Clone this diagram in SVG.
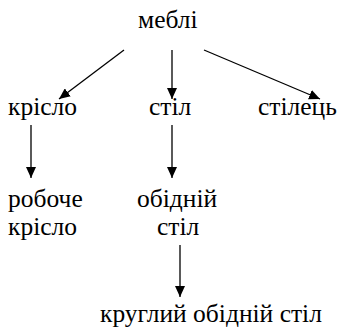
<svg xmlns="http://www.w3.org/2000/svg" width="338" height="327" viewBox="0 0 338 327">
<style>
text, .t{font-family:"Liberation Serif","Times New Roman","DejaVu Serif",serif !important;font-size:25.5px;fill:#000}
.ln{stroke:#000;stroke-width:1.3;fill:none}
</style>
<defs>
<marker id="ah" markerWidth="11" markerHeight="10" refX="11" refY="5" orient="auto" markerUnits="userSpaceOnUse">
<path d="M0,0 L11,5 L0,10 Z" fill="#000"/>
</marker>
</defs>
<rect width="338" height="327" fill="#fff"/>
<g id="n-mebli"><text class="t" font-family="Liberation Serif, serif" x="138" y="28">меблі</text></g>
<g id="n-krislo"><text class="t" font-family="Liberation Serif, serif" x="8" y="115">крісло</text></g>
<g id="n-stil"><text class="t" font-family="Liberation Serif, serif" x="149" y="115">стіл</text></g>
<g id="n-stilets"><text class="t" font-family="Liberation Serif, serif" x="258" y="115">стілець</text></g>
<g id="n-roboche"><text class="t" font-family="Liberation Serif, serif" x="8" y="207">робоче</text><text class="t" font-family="Liberation Serif, serif" x="8" y="235">крісло</text></g>
<g id="n-obidnii"><text class="t" font-family="Liberation Serif, serif" x="137" y="207">обідній</text><text class="t" font-family="Liberation Serif, serif" x="157" y="235">стіл</text></g>
<g id="n-kruhlyi"><text class="t" font-family="Liberation Serif, serif" x="100" y="322">круглий обідній стіл</text></g>
<g id="connectors">
<line class="ln" marker-end="url(#ah)" x1="124" y1="50" x2="59" y2="99"/>
<line class="ln" marker-end="url(#ah)" x1="172" y1="50" x2="172" y2="99"/>
<line class="ln" marker-end="url(#ah)" x1="204" y1="50" x2="320" y2="99"/>
<line class="ln" marker-end="url(#ah)" x1="31" y1="125" x2="31" y2="178"/>
<line class="ln" marker-end="url(#ah)" x1="172" y1="125" x2="172" y2="178"/>
<line class="ln" marker-end="url(#ah)" x1="180" y1="245" x2="180" y2="297"/>
</g>
</svg>
